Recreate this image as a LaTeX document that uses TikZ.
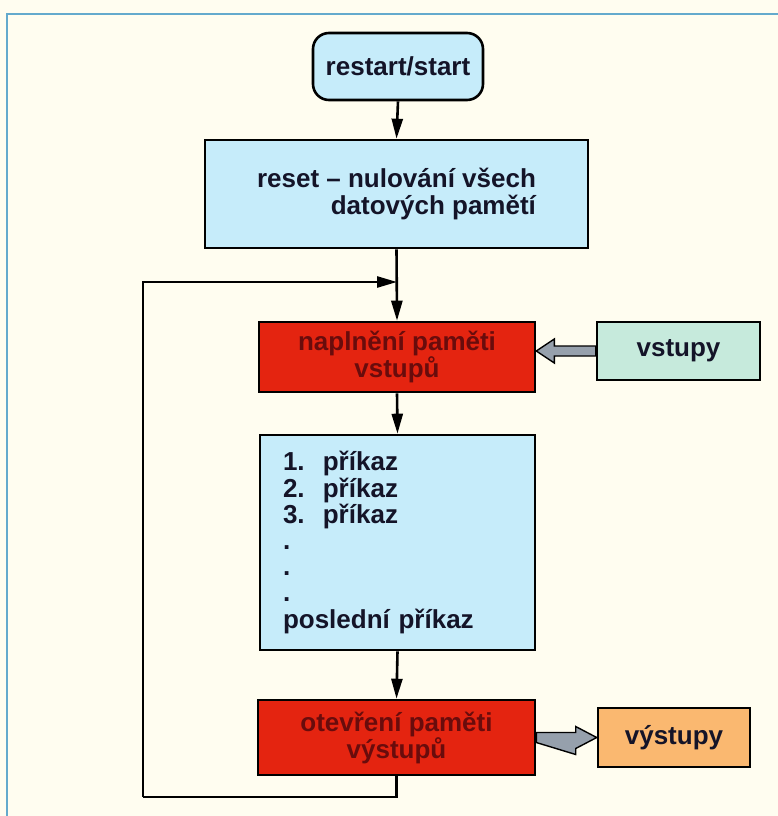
\documentclass[tikz,border=0pt]{standalone}
\usepackage{fontspec}
\setmainfont{Liberation Sans}
\usetikzlibrary{arrows.meta,calc}
\definecolor{bgc}{RGB}{255,253,240}
\definecolor{framec}{RGB}{100,170,205}
\definecolor{lblue}{RGB}{198,236,250}
\definecolor{redbox}{RGB}{228,36,16}
\definecolor{redtext}{RGB}{105,12,12}
\definecolor{lgreen}{RGB}{198,234,220}
\definecolor{lorange}{RGB}{250,184,112}
\definecolor{txt}{RGB}{20,20,40}
\definecolor{fatgray}{RGB}{150,160,172}
\tikzset{
  box/.style={draw=black, line width=2.6pt, inner sep=0pt, align=center,
    font=\fontsize{26}{27}\selectfont\bfseries, text=txt},
  bluebox/.style={box, fill=lblue},
  redb/.style={box, fill=redbox, text=redtext},
  arr/.style={draw=black, line width=2.6pt, -{Triangle[length=20pt,width=11pt]}},
  plain/.style={draw=black, line width=2.6pt},
  fat/.style={draw=black, line width=1.4pt, fill=fatgray, line join=miter},
}
\begin{document}
\begin{tikzpicture}[x=1pt,y=-1pt]
\useasboundingbox (0,0) rectangle (778,816);
\fill[bgc] (0,0) rectangle (778,816);
\draw[framec, line width=2pt] (778,14) -- (7,14) -- (7,816);

\node[bluebox, rounded corners=16pt, minimum width=170pt, minimum height=67pt] (rs) at (398,66.5) {restart/start};
\node[bluebox, minimum width=383pt, minimum height=108pt, align=right] (reset) at (396.5,194) {reset -- nulování všech\\datových pamětí};
\node[redb, minimum width=276pt, minimum height=70pt] (nap) at (397,357) {naplnění paměti\\vstupů};
\node[box, fill=lgreen, minimum width=163pt, minimum height=58pt] (vst) at (678.5,351) {vstupy};
\node[bluebox, minimum width=275pt, minimum height=215pt, text width=229pt, align=left,
  font=\fontsize{26}{26.2}\selectfont\bfseries] (prog) at (397.5,542.5)
  {1.\hspace{0.7em}příkaz\\2.\hspace{0.7em}příkaz\\3.\hspace{0.7em}příkaz\\.\\.\\.\\poslední příkaz};
\node[redb, minimum width=277pt, minimum height=75pt] (otv) at (396.5,737.5) {otevření paměti\\výstupů};
\node[box, fill=lorange, minimum width=152pt, minimum height=59pt] (vys) at (674,737.5) {výstupy};

\coordinate (join) at (397,282);
\coordinate (fb) at (143,797);

\draw[arr] (rs.south) -- (reset.north);
\draw[arr] (reset.south) -- (nap.north);
\draw[arr] (nap.south) -- (prog.north);
\draw[arr] (prog.south) -- (otv.north);
\draw[plain] (otv.south) |- (fb);
\draw[arr] (fb) |- (join);

\draw[fat] (vst.west) -- ++(0,5) -- ($(vst.west -| nap.east)+(18,5)$) -- ++(0,7)
  -- (vst.west -| nap.east) -- ++(18,-12) -- ++(0,7) -- ($(vst.west)+(0,-5)$) -- cycle;
\draw[fat] (otv.east) -- ++(0,-5) -- ($(otv.east -| vys.west)+(-21,-5)$) -- ++(0,-6)
  -- (otv.east -| vys.west) -- ++(-21,11) -- ++(0,6) -- ($(otv.east)+(0,5)$) -- cycle;
\end{tikzpicture}
\end{document}
